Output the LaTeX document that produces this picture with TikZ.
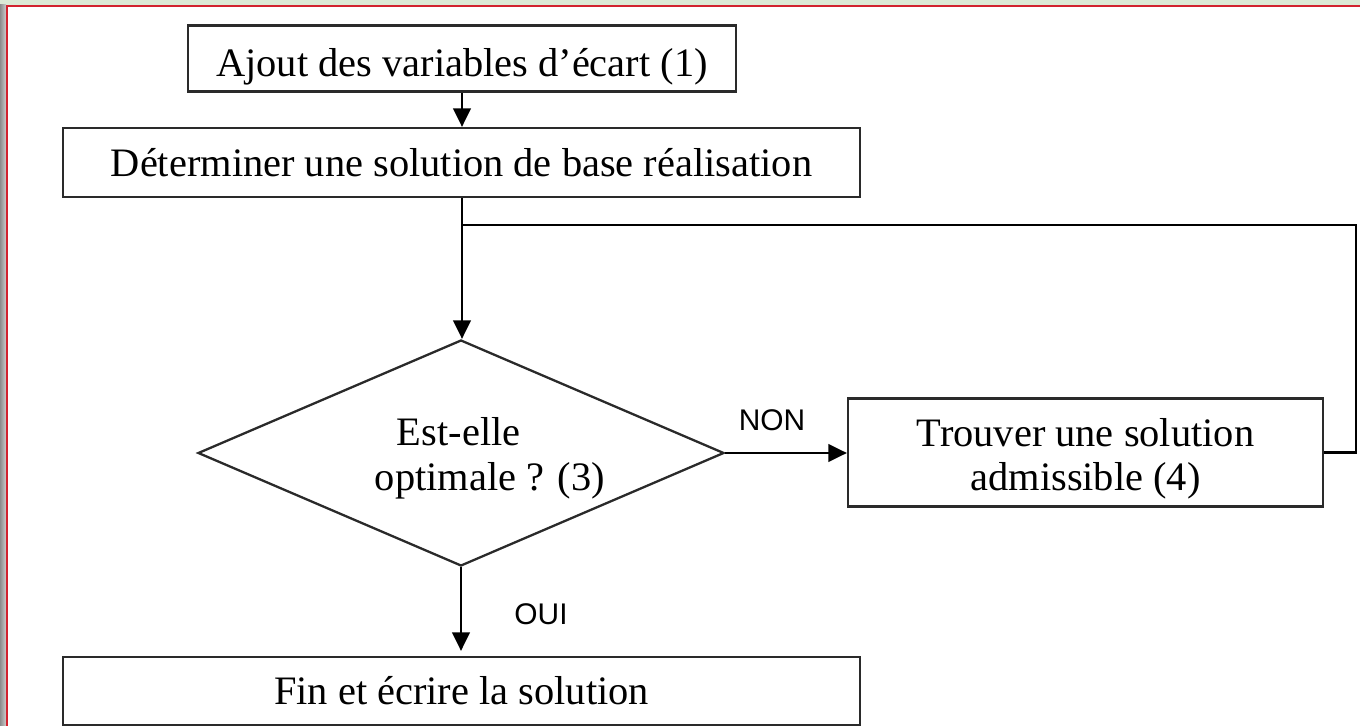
\documentclass[tikz,border=0pt]{standalone}
\usepackage{fontspec}
\setmainfont{Liberation Serif}
\newfontfamily\labelfont{Liberation Sans}
\usetikzlibrary{shapes.geometric,arrows.meta}
\definecolor{boxgray}{HTML}{2A2A2A}
\definecolor{framered}{HTML}{D2232F}
\definecolor{framegreen}{HTML}{DCEAD6}
\begin{document}
\begin{tikzpicture}[x=0.02cm,y=-0.02cm,
  box/.style={draw=boxgray, line width=1.3pt, rectangle, inner sep=0pt,
    font=\fontsize{23pt}{25.6pt}\selectfont, align=center},
  decision/.style={draw=boxgray, line width=1.3pt, diamond, inner sep=0pt},
  qtext/.style={font=\fontsize{23pt}{25.6pt}\selectfont, align=left, inner sep=0pt},
  conn/.style={line width=1.3pt, draw=black},
  arr/.style={conn, -{Triangle[length=10.5pt,width=10pt]}},
  lab/.style={font=\labelfont\fontsize{17pt}{19pt}\selectfont, inner sep=0pt}]

\useasboundingbox (0,0) rectangle (1360,726);
\clip (0,0) rectangle (1360,726);
\fill[white] (0,0) rectangle (1360,726);
\fill[framegreen] (0,0) rectangle (1360,5);
\fill[left color=black!45, right color=black!20] (0,5) rectangle (6,726);
\draw[framered, line width=1.2pt] (7,726) -- (7,6) -- (1360,6);

\node[box, minimum width=548*0.02cm, minimum height=66*0.02cm] (b1) at (462,58.5)
  {\raisebox{0pt}[\dimexpr\height+0.32cm\relax][\depth]{Ajout des variables d’écart (1)}};
\node[box, minimum width=797*0.02cm, minimum height=69*0.02cm] (b2) at (461.5,162.5)
  {Déterminer une solution de base réalisation};
\node[decision, minimum width=526*0.02cm, minimum height=226*0.02cm] (d) at (461,453) {};
\node[qtext] (dt) at (490,458) {\hspace*{0.44cm}Est-elle\\optimale ? (3)};
\node[box, minimum width=475*0.02cm, minimum height=108*0.02cm] (b4) at (1085.5,452.5)
  {\raisebox{0pt}[\dimexpr\height+0.28cm\relax][\depth]{\begin{tabular}{@{}c@{}}Trouver une solution\\admissible (4)\end{tabular}}};
\node[box, minimum width=797*0.02cm, minimum height=68*0.02cm] (fin) at (461.5,691)
  {Fin et écrire la solution};

\node[lab] (non) at (772,420) {NON};
\node[lab] (oui) at (541,614) {OUI};

\coordinate (j) at (462,225);
\coordinate (rc) at (1356,225);

\draw[arr] (b1.south) -- (b1.south |- b2.north);
\draw[conn] (b2.south -| j) -- (j);
\draw[arr] (j) -- (j |- d.north);
\draw[arr] (d.east) -- (d.east -| b4.west);
\draw[conn] (b4.east) -| (rc) -- (j);
\draw[arr, shorten >=0.1cm] (d.south) -- (d.south |- fin.north);
\end{tikzpicture}
\end{document}
